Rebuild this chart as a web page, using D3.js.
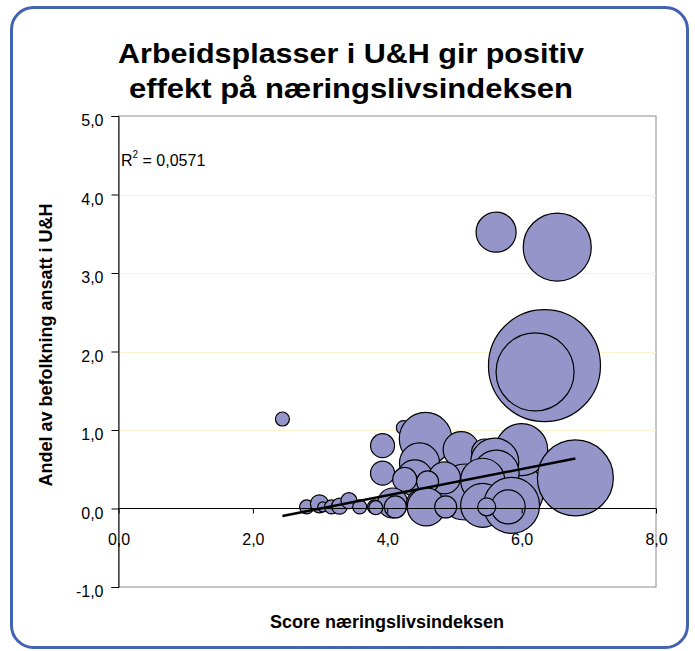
<!DOCTYPE html>
<html><head><meta charset="utf-8">
<script src="https://cdn.jsdelivr.net/npm/d3@7"></script>
<style>
html,body{margin:0;padding:0;background:#fff;}
svg{display:block;font-family:Arial,"Liberation Sans",sans-serif;}
</style></head>
<body>
<svg id="c" width="695" height="651"></svg>
<script>
// ---- data ----
const titleLines = ["Arbeidsplasser i U&H gir positiv", "effekt på næringslivsindeksen"];
const xTitle = "Score næringslivsindeksen";
const yTitle = "Andel av befolkning ansatt i U&H";
const rSquaredLabel = "0,0571";
const xTicks = [0, 2, 4, 6, 8];
const yTicks = [-1, 0, 1, 2, 3, 4, 5];
const gridValues = [1, 2, 3, 4];
// bubbles (score, share, size) in draw order
const bubbleX = [6.34, 6.20, 6.53, 5.62, 2.44, 4.24, 4.57, 3.93, 3.93, 4.48, 4.41, 5.10, 5.88, 6.00, 5.53, 5.45, 5.60, 5.62, 5.16, 5.42, 4.85, 4.26, 4.60, 4.08, 4.51, 4.58, 5.42, 5.85, 5.80, 5.48, 4.87, 4.12, 6.80, 2.80, 2.99, 3.04, 3.17, 3.29, 3.43, 3.59, 3.81, 3.83];
const bubbleY = [1.82, 1.74, 3.33, 3.52, 1.14, 1.03, 0.89, 0.80, 0.45, 0.58, 0.39, 0.75, 0.22, 0.75, 0.64, 0.72, 0.59, 0.45, 0.21, 0.36, 0.39, 0.37, 0.34, 0.07, 0.06, 0.02, 0.04, 0.04, 0.02, 0.02, 0.02, 0.02, 0.39, 0.02, 0.06, 0.02, 0.02, 0.03, 0.10, 0.02, 0.02, 0.01];
const bubbleSize = [100, 48.5, 36.9, 12.8, 1.56, 1.56, 22, 4.59, 4.59, 12.8, 10.3, 10.3, 28.7, 21.6, 10.3, 5.39, 18.4, 16.9, 25, 15.4, 8.16, 4.59, 3.86, 7.17, 7.17, 11.5, 15.4, 25, 9.22, 2.58, 3.86, 3.86, 46, 1.56, 2.58, 0.8, 1.56, 2.04, 2.04, 1.56, 1.56, 1.56];
// linear trendline end points
const trendX = [2.44, 6.80];
const trendY = [-0.095, 0.637];

// ---- drawing ----
const svg = d3.select("#c");
const fmt = d => d.toFixed(1).replace(".", ",");
const x = d3.scaleLinear().domain([0, 8]).range([118.5, 656]);
const y = d3.scaleLinear().domain([-1, 5]).range([587, 116]);
const r = d3.scaleSqrt().domain([0, 100]).range([0, 56]);

// frame
svg.append("rect").attr("x", 11.5).attr("y", 7.5).attr("width", 676).attr("height", 640)
  .attr("rx", 22).attr("fill", "#fff").attr("stroke", "#4462b2").attr("stroke-width", 3);

// title
const titleWidths = [466, 444];
svg.append("g").selectAll("text").data(titleLines).join("text")
  .attr("x", 351).attr("y", (d, i) => 63 + i * 35)
  .attr("text-anchor", "middle").attr("font-size", 28.5).attr("font-weight", "bold")
  .attr("textLength", (d, i) => titleWidths[i]).attr("lengthAdjust", "spacingAndGlyphs")
  .attr("fill", "#000").text(d => d);

// plot border (gray)
svg.append("rect").attr("x", x(0)).attr("y", y(5)).attr("width", x(8) - x(0)).attr("height", y(-1) - y(5))
  .attr("fill", "none").attr("stroke", "#8c8c8c").attr("stroke-width", 1);

// gridlines
svg.append("g").selectAll("line").data(gridValues).join("line")
  .attr("x1", x(0)).attr("x2", x(8)).attr("y1", d => Math.round(y(d)) + 0.5).attr("y2", d => Math.round(y(d)) + 0.5)
  .attr("stroke", "#fbf3cc").attr("stroke-width", 1);

// bubbles
svg.append("g").selectAll("circle").data(bubbleX.map((d, i) => ({x: d, y: bubbleY[i], s: bubbleSize[i]})))
  .join("circle")
  .attr("cx", d => x(d.x)).attr("cy", d => y(d.y)).attr("r", d => r(d.s))
  .attr("fill", "#9595c9").attr("stroke", "#000").attr("stroke-width", 1.2);

// trendline
svg.append("line")
  .attr("x1", x(trendX[0])).attr("y1", y(trendY[0])).attr("x2", x(trendX[1])).attr("y2", y(trendY[1]))
  .attr("stroke", "#000").attr("stroke-width", 2.5);

// x axis at y=0
const xAxis = d3.axisBottom(x).tickValues(xTicks).tickFormat(fmt).tickSize(5).tickPadding(20);
const gx = svg.append("g").attr("transform", `translate(0,${y(0)})`).call(xAxis);
gx.select(".domain").remove();
gx.selectAll("text").attr("font-size", 16).attr("font-family", "Arial,'Liberation Sans',sans-serif").attr("fill", "#000");
gx.selectAll("line").attr("stroke", "#000");
svg.append("line").attr("x1", x(0)).attr("x2", x(8)).attr("y1", y(0)).attr("y2", y(0)).attr("stroke", "#000").attr("stroke-width", 1);

// y axis
const yAxis = d3.axisLeft(y).tickValues(yTicks).tickFormat(fmt).tickSize(7).tickPadding(8);
const gy = svg.append("g").attr("transform", `translate(${x(0)},0)`).call(yAxis);
gy.select(".domain").attr("stroke", "#000");
gy.selectAll("line").attr("stroke", "#000");
gy.selectAll("text").attr("font-size", 16).attr("dy", "0.6em").attr("font-family", "Arial,'Liberation Sans',sans-serif").attr("fill", "#000");

// R^2 label
const rt = svg.append("text").attr("x", 121).attr("y", 166).attr("font-size", 16).attr("fill", "#000");
rt.append("tspan").text("R");
rt.append("tspan").attr("font-size", 10).attr("dy", -8).text("2");
rt.append("tspan").attr("dy", 8).text(" = " + rSquaredLabel);

// axis titles
svg.append("text").attr("x", 387).attr("y", 628).attr("text-anchor", "middle")
  .attr("font-size", 18).attr("font-weight", "bold").text(xTitle);
svg.append("text").attr("transform", "translate(52,345) rotate(-90)").attr("text-anchor", "middle")
  .attr("font-size", 18).attr("font-weight", "bold").text(yTitle);
</script>
</body></html>
